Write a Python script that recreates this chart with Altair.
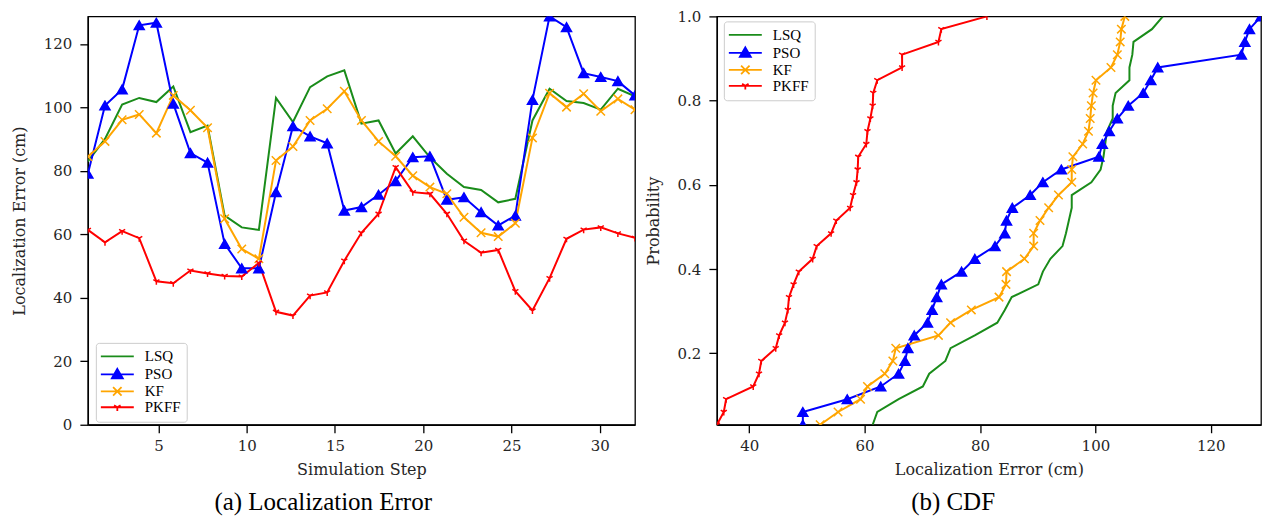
import altair as alt
import pandas as pd

# ---------------- data ----------------
methods = ["LSQ", "PSO", "KF", "PKFF"]
colors = ["#1a8c1a", "#0000ff", "#ffa500", "#ff0000"]

steps = [1.0, 1.97, 2.94, 3.91, 4.88, 5.84, 6.81, 7.78, 8.75, 9.72, 10.69,
         11.66, 12.62, 13.59, 14.56, 15.53, 16.5, 17.47, 18.44, 19.41, 20.38,
         21.34, 22.31, 23.28, 24.25, 25.22, 26.19, 27.16, 28.12, 29.09, 30.06,
         31.03, 32.0]

lsq = [83.0, 90.1, 100.9, 103.0, 101.7, 106.6, 92.2, 94.3, 65.9, 62.2, 61.4,
       103.0, 95.4, 106.4, 109.8, 111.7, 94.9, 95.9, 85.5, 90.9, 84.3, 79.1,
       74.9, 74.0, 70.1, 71.2, 95.9, 105.9, 102.0, 101.4, 99.3, 105.9, 103.5]

pso = [79.1, 100.6, 105.7, 125.9, 126.7, 101.2, 85.6, 82.6, 57.0, 49.3, 49.3,
       73.3, 94.1, 90.9, 88.7, 67.5, 68.6, 72.5, 76.8, 84.3, 84.6, 70.9,
       71.7, 67.0, 62.8, 65.9, 102.4, 128.7, 125.3, 110.8, 109.6, 108.3, 103.8]

kf = [84.5, 89.3, 96.1, 97.8, 91.9, 103.8, 99.1, 93.6, 64.9, 55.4, 52.3,
      83.3, 87.7, 95.9, 99.6, 105.1, 95.9, 89.3, 84.6, 78.5, 74.9, 72.8,
      65.4, 60.5, 59.3, 63.5, 90.4, 104.5, 100.1, 104.3, 98.8, 102.7, 99.3]

pkff = [61.4, 57.5, 61.0, 58.8, 45.2, 44.6, 48.6, 47.7, 46.9, 46.7, 51.0,
        35.6, 34.4, 40.7, 41.7, 51.7, 60.5, 66.5, 81.2, 73.3, 72.8, 66.5,
        58.0, 54.2, 55.1, 42.1, 36.0, 46.2, 58.6, 61.5, 62.2, 60.3, 58.9]

series = [lsq, pso, kf, pkff]

left_x_ticks = [5, 10, 15, 20, 25, 30]
left_y_ticks = [0, 20, 40, 60, 80, 100, 120]
right_x_ticks = [40, 60, 80, 100, 120]
right_y_ticks = [0.2, 0.4, 0.6, 0.8, 1.0]

# long tables
rows = []
for m, vals in zip(methods, series):
    for s, v in zip(steps, vals):
        rows.append({"step": s, "error": v, "method": m})
df = pd.DataFrame(rows)

cdf_rows = []
for m, vals in zip(methods, series):
    sv = sorted(vals)
    n = len(sv)
    for i, v in enumerate(sv):
        cdf_rows.append({"error": v, "prob": (i + 1) / n, "rank": i, "method": m})
cdf = pd.DataFrame(cdf_rows)

all_vals = [v for s in series for v in s]
n_pts = len(steps)

# ---------------- styling helpers ----------------
color_scale = alt.Scale(domain=methods, range=colors)
point_methods = ["PSO", "KF", "PKFF"]
X_PATH = "M-1,-1L1,1M-1,1L1,-1"
TRI_PATH = "M0,0L0,1M0,0L-0.866,-0.5M0,0L0.866,-0.5"
shape_scale = alt.Scale(domain=point_methods, range=["triangle-up", X_PATH, TRI_PATH])
fill_scale = alt.Scale(domain=point_methods, range=["#0000ff", "transparent", "transparent"])
stroke_scale = alt.Scale(domain=point_methods, range=["#0000ff", "#ffa500", "#ff0000"])

LINE = "M-3.3,0L3.3,0"
P_PSO = LINE + "M0,-1.1L1.1,0.8L-1.1,0.8Z"
P_KF = LINE + "M-0.85,-0.85L0.85,0.85M-0.85,0.85L0.85,-0.85"
P_PKFF = LINE + "M0,0L0,0.75M0,0L-0.65,-0.38M0,0L0.65,-0.38"

shape_expr = (f"datum.value === 'PSO' ? '{P_PSO}' : datum.value === 'KF' ? '{P_KF}' : "
              f"datum.value === 'PKFF' ? '{P_PKFF}' : '{LINE}'")
fill_expr = f"datum.value === 'PSO' ? '{colors[1]}' : 'transparent'"
stroke_expr = (f"datum.value === 'LSQ' ? '{colors[0]}' : datum.value === 'PSO' ? '{colors[1]}' : "
               f"datum.value === 'KF' ? '{colors[2]}' : '{colors[3]}'")


def make_legend(lx, ly):
    return alt.Legend(
        title=None, orient="none", legendX=lx, legendY=ly,
        fillColor="rgba(255,255,255,0.85)", strokeColor="#cccccc",
        cornerRadius=3, padding=6, rowPadding=0,
        labelFont="Liberation Serif", labelFontSize=15, labelColor="black",
        symbolSize=100, symbolOffset=8, labelOffset=20,
        symbolType=alt.ExprRef(expr=shape_expr),
        symbolFillColor=alt.ExprRef(expr=fill_expr),
        symbolStrokeColor=alt.ExprRef(expr=stroke_expr),
        symbolStrokeWidth=1.8,
    )


def panel(data, xf, yf, order_f, xscale, yscale, xaxis, yaxis, legend, caption, w, h):
    base = alt.Chart(data)
    x = alt.X(f"{xf}:Q", scale=xscale, axis=xaxis)
    y = alt.Y(f"{yf}:Q", scale=yscale, axis=yaxis)
    lines = base.mark_line(strokeWidth=2, clip=True).encode(
        x=x, y=y,
        color=alt.Color("method:N", scale=color_scale, legend=legend),
        order=alt.Order(f"{order_f}:Q"),
    )
    pts = base.transform_filter("datum.method !== 'LSQ'").transform_calculate(
        msize="datum.method === 'PSO' ? 100 : (datum.method === 'KF' ? 72 : 50)"
    ).mark_point(opacity=1, strokeWidth=1.5, clip=True).encode(
        x=x, y=y,
        shape=alt.Shape("method:N", scale=shape_scale, legend=None),
        fill=alt.Fill("method:N", scale=fill_scale, legend=None),
        stroke=alt.Stroke("method:N", scale=stroke_scale, legend=None),
        size=alt.Size("msize:Q", scale=None),
    )
    return alt.layer(lines, pts).properties(
        width=w, height=h,
        title=alt.TitleParams(text=caption, orient="bottom", anchor="middle",
                              frame="bounds", font="Liberation Serif",
                              fontSize=25, fontWeight="normal", color="black",
                              offset=12),
    )


left = panel(
    df, "step", "error", "step",
    alt.Scale(domain=[min(steps), max(steps)], nice=False, zero=False),
    alt.Scale(domain=[0, max(all_vals)], nice=False),
    alt.Axis(values=left_x_ticks, title="Simulation Step", format="d"),
    alt.Axis(values=left_y_ticks, title="Localization Error (cm)", format="d"),
    make_legend(8, 327), "(a) Localization Error", 548, 409,
)

right = panel(
    cdf, "error", "prob", "rank",
    alt.Scale(domain=[min(all_vals), max(all_vals)], nice=False, zero=False),
    alt.Scale(domain=[1 / n_pts, 1], nice=False, zero=False),
    alt.Axis(values=right_x_ticks, title="Localization Error (cm)", format="d"),
    alt.Axis(values=right_y_ticks, title="Probability", format=".1f"),
    make_legend(7, 5), "(b) CDF", 545, 409,
)

chart = alt.hconcat(left, right, spacing=8).resolve_legend(
    color="independent"
).properties(
    padding={"left": 2, "top": 0, "right": 0, "bottom": 0},
    background="white",
).configure_view(
    stroke="black", strokeWidth=1.3
).configure_axis(
    labelFont="DejaVu Serif", labelFontSize=15, labelColor="#262626",
    titleFont="DejaVu Serif", titleFontSize=16, titleFontWeight="normal",
    titleColor="#262626", domainColor="black", domainWidth=1.3,
    tickColor="black", tickWidth=1.3, tickSize=8, labelPadding=6,
    grid=False, labelFlush=False,
).configure_axisX(
    titlePadding=8
).configure_axisY(
    titlePadding=16, labelPadding=8
)

chart.save("out.html", embed_options={"renderer": "svg", "actions": False})
